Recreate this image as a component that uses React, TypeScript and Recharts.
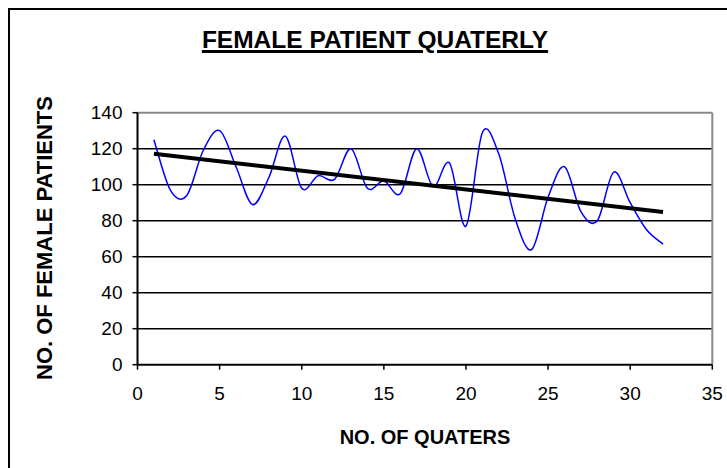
import { LineChart, Line, XAxis, YAxis, ReferenceLine } from "recharts";

// quarter number and female patients per quarter
const quarters = [
  1, 2, 3, 4, 5, 6, 7, 8, 9, 10, 11, 12, 13, 14, 15, 16,
  17, 18, 19, 20, 21, 22, 23, 24, 25, 26, 27, 28, 29, 30, 31, 32,
];
const patients = [
  125, 97, 94, 119, 130, 110, 89, 104, 127, 98, 105, 103, 120, 98, 102, 95,
  120, 99, 112, 77, 129, 117, 81, 64, 93, 110, 85, 80, 107, 90, 75, 67,
];

// linear trend line end points
const trendX = [1, 32];
const trendY = [117.2, 84.8];

const xTicks = [0, 5, 10, 15, 20, 25, 30, 35];
const yTicks = [0, 20, 40, 60, 80, 100, 120, 140];

const data = quarters.map((q, i) => ({ q, value: patients[i] }));
const trend = trendX.map((q, i) => ({ q, trend: trendY[i] }));

// Excel-like smoothed line (Catmull-Rom through every point)
const excelSmooth = (context: any) => {
  let pts: number[][] = [];
  return {
    areaStart() {},
    areaEnd() {},
    lineStart() {
      pts = [];
    },
    point(x: number, y: number) {
      pts.push([+x, +y]);
    },
    lineEnd() {
      if (!pts.length) return;
      context.moveTo(pts[0][0], pts[0][1]);
      for (let i = 0; i < pts.length - 1; i++) {
        const p0 = pts[i - 1] || pts[i];
        const p1 = pts[i];
        const p2 = pts[i + 1];
        const p3 = pts[i + 2] || p2;
        context.bezierCurveTo(
          p1[0] + (p2[0] - p0[0]) / 6,
          p1[1] + (p2[1] - p0[1]) / 6,
          p2[0] - (p3[0] - p1[0]) / 6,
          p2[1] - (p3[1] - p1[1]) / 6,
          p2[0],
          p2[1]
        );
      }
    },
  };
};

const font = "'Liberation Sans', Arial, sans-serif";

export default function App() {
  return (
    <div
      style={{
        position: "fixed",
        left: 0,
        top: 0,
        width: 727,
        height: 468,
        overflow: "hidden",
        background: "#fff",
        fontFamily: font,
      }}
    >
      <div
        style={{
          position: "absolute",
          left: 8,
          top: 8,
          width: 760,
          height: 500,
          borderTop: "2px solid #000",
          borderLeft: "2px solid #000",
        }}
      />
      <div
        style={{
          position: "absolute",
          left: 0,
          width: 750,
          top: 26,
          textAlign: "center",
          fontWeight: "bold",
          fontSize: 24.5,
          textDecoration: "underline",
          textDecorationThickness: 3,
          color: "#000",
        }}
      >
        FEMALE PATIENT QUATERLY
      </div>
      <div
        style={{
          position: "absolute",
          left: 45,
          top: 238,
          transform: "translate(-50%, -50%) rotate(-90deg)",
          whiteSpace: "nowrap",
          fontWeight: "bold",
          fontSize: 22,
        }}
      >
        NO. OF FEMALE PATIENTS
      </div>
      <div
        style={{
          position: "absolute",
          left: 425,
          top: 437,
          transform: "translate(-50%, -50%)",
          whiteSpace: "nowrap",
          fontWeight: "bold",
          fontSize: 20,
        }}
      >
        NO. OF QUATERS
      </div>
      <div style={{ position: "absolute", left: 0, top: 0 }}>
        <LineChart
          width={727}
          height={468}
          data={data}
          margin={{ top: 112.7, right: 14.7, bottom: 73.3, left: 77.5 }}
        >
          <XAxis
            dataKey="q"
            type="number"
            domain={[0, 35]}
            ticks={xTicks}
            height={30}
            axisLine={{ stroke: "#000", strokeWidth: 2 }}
            tickLine={{ stroke: "#000", strokeWidth: 1.5 }}
            tickSize={5}
            tickMargin={17}
            tick={{ fill: "#000", fontSize: 19, fontFamily: font }}
          />
          <YAxis
            type="number"
            domain={[0, 140]}
            ticks={yTicks}
            width={60}
            axisLine={{ stroke: "#000", strokeWidth: 2 }}
            tickLine={{ stroke: "#000", strokeWidth: 1.5 }}
            tickSize={5}
            tickMargin={10}
            tick={{ fill: "#000", fontSize: 19, fontFamily: font }}
          />
          {yTicks.slice(1).map((v) => (
            <ReferenceLine
              key={v}
              y={v}
              stroke={v === 140 ? "#888" : "#000"}
              strokeWidth={v === 140 ? 2 : 1.5}
            />
          ))}
          <ReferenceLine x={35} stroke="#888" strokeWidth={2} />
          <Line
            dataKey="value"
            type={excelSmooth as any}
            stroke="#0000ff"
            strokeWidth={1.5}
            dot={false}
            isAnimationActive={false}
          />
          <Line
            data={trend}
            dataKey="trend"
            type="linear"
            stroke="#000"
            strokeWidth={4}
            dot={false}
            isAnimationActive={false}
          />
        </LineChart>
      </div>
    </div>
  );
}
